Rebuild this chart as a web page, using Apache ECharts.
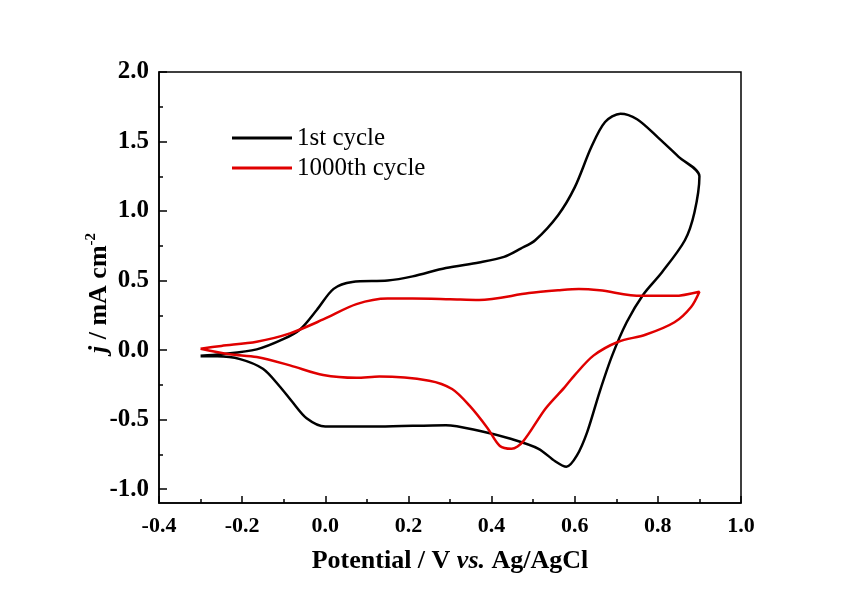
<!DOCTYPE html>
<html>
<head>
<meta charset="utf-8">
<script src="https://cdn.jsdelivr.net/npm/echarts@6/dist/echarts.min.js"></script>
<style>
html,body{margin:0;padding:0;background:#fff;}
#main{width:845px;height:594px;}
</style>
</head>
<body>
<div id="main"></div>
<script>
// 1st cycle: [potential (V), current density (mA cm-2)]
var cycle1 = [
    [-0.30,-0.04],[-0.25,-0.03],[-0.165,0.005],[-0.10,0.08],[-0.06,0.15],[-0.02,0.29],
    [0.02,0.44],[0.065,0.49],[0.15,0.50],[0.21,0.53],[0.29,0.59],[0.37,0.63],[0.43,0.67],
    [0.47,0.73],[0.505,0.79],[0.56,0.97],[0.60,1.17],[0.64,1.46],[0.673,1.64],[0.71,1.70],
    [0.75,1.66],[0.80,1.53],[0.85,1.39],[0.90,1.25],[0.888,0.99],[0.865,0.79],[0.81,0.56],
    [0.765,0.40],[0.725,0.20],[0.69,-0.04],[0.66,-0.30],[0.63,-0.59],[0.605,-0.76],
    [0.58,-0.84],[0.553,-0.80],[0.513,-0.71],[0.448,-0.64],[0.37,-0.58],[0.29,-0.54],
    [0.13,-0.55],[0.0,-0.55],[-0.045,-0.49],[-0.08,-0.37],[-0.11,-0.26],[-0.15,-0.135],
    [-0.205,-0.065],[-0.26,-0.045],[-0.30,-0.045]
];
// 1000th cycle
var cycle1000 = [
    [-0.30,0.01],[-0.25,0.03],[-0.165,0.06],[-0.085,0.12],[-0.005,0.22],[0.075,0.33],
    [0.15,0.37],[0.21,0.37],[0.30,0.365],[0.37,0.36],[0.49,0.41],[0.56,0.43],[0.61,0.44],
    [0.66,0.43],[0.76,0.39],[0.84,0.39],[0.90,0.42],[0.88,0.31],[0.84,0.20],[0.77,0.11],
    [0.705,0.06],[0.645,-0.04],[0.60,-0.18],[0.575,-0.27],[0.53,-0.42],[0.475,-0.66],
    [0.448,-0.71],[0.42,-0.69],[0.39,-0.56],[0.347,-0.40],[0.305,-0.28],[0.25,-0.22],
    [0.13,-0.19],[0.075,-0.20],[-0.005,-0.18],[-0.085,-0.11],[-0.165,-0.05],[-0.23,-0.03],
    [-0.30,0.01]
];
var seriesNames = ['1st cycle', '1000th cycle'];
var yMajorTicks = [-1.0,-0.5,0.0,0.5,1.0,1.5,2.0];
var yMinorTicks = [-0.75,-0.25,0.25,0.75,1.25,1.75];

var serif = '"Liberation Serif","Times New Roman",serif';
var myChart = echarts.init(document.getElementById('main'));

option = {
    backgroundColor: '#fff',
    animation: false,
    grid: {
        left: 159, top: 72, right: 104, bottom: 91,
        show: true, borderColor: '#000', borderWidth: 1.5
    },
    legend: {
        orient: 'vertical',
        left: 227, top: 120,
        itemWidth: 60, itemHeight: 3, itemGap: 4,
        icon: 'rect',
        textStyle: {fontFamily: serif, fontSize: 25, color: '#000', lineHeight: 26},
        data: seriesNames
    },
    xAxis: {
        type: 'value',
        min: -0.4, max: 1.0, interval: 0.2,
        name: '{b|Potential / V }{i|vs.}{b| Ag/AgCl}',
        nameLocation: 'middle',
        nameGap: 45,
        nameTextStyle: {
            rich: {
                b: {fontFamily: serif, fontSize: 26, fontWeight: 'bold', color: '#000'},
                i: {fontFamily: serif, fontSize: 26, fontWeight: 'bold', fontStyle: 'italic', color: '#000'}
            }
        },
        axisLine: {onZero: false, lineStyle: {color: '#000', width: 1.5}},
        axisTick: {inside: true, length: 7, lineStyle: {color: '#000', width: 1.5}},
        minorTick: {show: true, splitNumber: 2, length: 4, lineStyle: {color: '#000', width: 1.5}},
        splitLine: {show: false},
        axisLabel: {
            margin: 12,
            fontFamily: serif, fontSize: 22, fontWeight: 'bold', color: '#000',
            formatter: function (v) { return v.toFixed(1); }
        }
    },
    yAxis: [{
        type: 'value',
        min: -1.1, max: 2.0,
        axisLine: {onZero: false, lineStyle: {color: '#000', width: 1.5}},
        axisTick: {inside: true, length: 8, customValues: yMajorTicks, lineStyle: {color: '#000', width: 1.5}},
        splitLine: {show: false},
        axisLabel: {
            customValues: yMajorTicks,
            margin: 10,
            fontFamily: serif, fontSize: 25, fontWeight: 'bold', color: '#000',
            formatter: function (v) { return v.toFixed(1); }
        }
    }, {
        type: 'value',
        min: -1.1, max: 2.0,
        position: 'left',
        axisLine: {show: false, onZero: false},
        axisTick: {inside: true, length: 4, customValues: yMinorTicks, lineStyle: {color: '#000', width: 1.5}},
        axisLabel: {show: false},
        splitLine: {show: false}
    }],
    graphic: [{
        type: 'text',
        x: 99, y: 293,
        rotation: Math.PI / 2,
        style: {
            text: '{i|j}{b| / mA cm}{s|-2}',
            align: 'center',
            verticalAlign: 'middle',
            rich: {
                i: {fontFamily: serif, fontSize: 26, fontWeight: 'bold', fontStyle: 'italic', fill: '#000'},
                b: {fontFamily: serif, fontSize: 26, fontWeight: 'bold', fill: '#000'},
                s: {fontFamily: serif, fontSize: 15, fontWeight: 'bold', fill: '#000', padding: [0, 0, 15, 0]}
            }
        }
    }],
    series: [{
        name: seriesNames[0],
        type: 'line',
        data: cycle1,
        smooth: 0.3,
        showSymbol: false,
        itemStyle: {color: '#000'},
        lineStyle: {color: '#000', width: 2.5}
    }, {
        name: seriesNames[1],
        type: 'line',
        data: cycle1000,
        smooth: 0.3,
        showSymbol: false,
        itemStyle: {color: '#e00000'},
        lineStyle: {color: '#e00000', width: 2.5}
    }]
};

myChart.setOption(option);
</script>
</body>
</html>
